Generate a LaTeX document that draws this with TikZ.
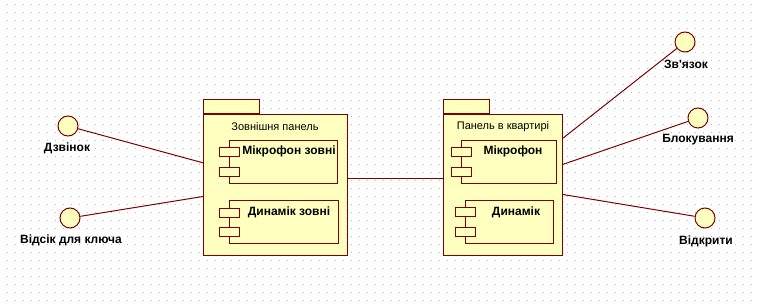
\documentclass[tikz,border=0pt]{standalone}
\usepackage{fontspec}
\setmainfont{Liberation Sans}
\usetikzlibrary{positioning}

\definecolor{roseline}{RGB}{128,0,0}
\definecolor{rosefill}{RGB}{255,255,192}
\definecolor{griddot}{RGB}{185,185,185}

\begin{document}
\begin{tikzpicture}[x=1pt, y=-1pt,
        pkg/.style={rectangle, draw=roseline, line width=1pt, fill=rosefill, inner sep=0pt, anchor=north west},
        tab/.style={pkg, anchor=south west, minimum height=14pt},
        comp/.style={pkg},
        port/.style={pkg, minimum width=20pt, minimum height=9pt},
        iface/.style={circle, draw=roseline, line width=1pt, fill=rosefill, minimum size=20pt, inner sep=0pt},
        pkgtitle/.style={font=\fontsize{11}{13}\selectfont, inner sep=0pt},
        boldtext/.style={font=\fontsize{12}{14}\selectfont\bfseries, inner sep=0pt},
        wire/.style={draw=roseline, line width=1pt}
    ]
    \useasboundingbox (0,0) rectangle (759,307);
    \fill[white] (0,0) rectangle (759,307);
    % dotted drawing grid
    \foreach \i in {0,...,94}
        \foreach \j in {0,...,37}
            \fill[griddot] (7+8*\i,4+8*\j) rectangle ++(1,1);

    % outdoor panel
    \node[pkg, minimum width=144pt, minimum height=141pt] (outdoor) at (203,114) {};
    \node[tab, minimum width=56pt] (outdoortab) at (outdoor.north west) {};
    \node[pkgtitle] (outdoortitle) at (275,127) {Зовнішня панель};
    \node[comp, minimum width=108pt, minimum height=43pt] (outmic) at (229,140) {};
    \node[port] (outmicp1) at (219,147) {};
    \node[port] (outmicp2) at (219,167) {};
    \node[boldtext] (outmicname) at (289,151) {Мікрофон зовні};
    \node[comp, minimum width=109pt, minimum height=43pt] (outspk) at (229,200) {};
    \node[port] (outspkp1) at (219,208) {};
    \node[port] (outspkp2) at (219,227) {};
    \node[boldtext] (outspkname) at (289,212) {Динамік зовні};

    % flat panel
    \node[pkg, minimum width=119pt, minimum height=141pt] (flat) at (443,114) {};
    \node[tab, minimum width=46pt] (flattab) at (flat.north west) {};
    \node[pkgtitle] (flattitle) at (503,127) {Панель в квартирі};
    \node[comp, minimum width=95pt, minimum height=43pt] (flatmic) at (461,140) {};
    \node[port] (flatmicp1) at (451,147) {};
    \node[port] (flatmicp2) at (451,167) {};
    \node[boldtext] (flatmicname) at (513,151) {Мікрофон};
    \node[comp, minimum width=88pt, minimum height=43pt] (flatspk) at (465,200) {};
    \node[port] (flatspkp1) at (455,207) {};
    \node[port] (flatspkp2) at (455,227) {};
    \node[boldtext] (flatspkname) at (516,212) {Динамік};

    % interfaces
    \node[iface] (bell) at (68,126) {};
    \node[boldtext] (belltext) at (67,148) {Дзвінок};
    \node[iface] (keyslot) at (70,218) {};
    \node[boldtext] (keyslottext) at (71,240) {Відсік для ключа};
    \node[iface] (talk) at (685,42) {};
    \node[boldtext] (talktext) at (686,64) {Зв\textquotesingle язок};
    \node[iface] (lock) at (698,118) {};
    \node[boldtext] (locktext) at (698,140) {Блокування};
    \node[iface] (open) at (705,218) {};
    \node[boldtext] (opentext) at (706,241) {Відкрити};

    % connections
    \draw[wire] (bell) -- (outdoor.163.4);
    \draw[wire] (keyslot) -- (outdoor.189.9);
    \draw[wire] (outdoor.5.2) -- (outdoor.5.2 -| flat.west);
    \draw[wire] (talk) -- (flat.38.6);
    \draw[wire] (lock) -- (flat.19.9);
    \draw[wire] (open) -- (flat.351.9);
\end{tikzpicture}
\end{document}
